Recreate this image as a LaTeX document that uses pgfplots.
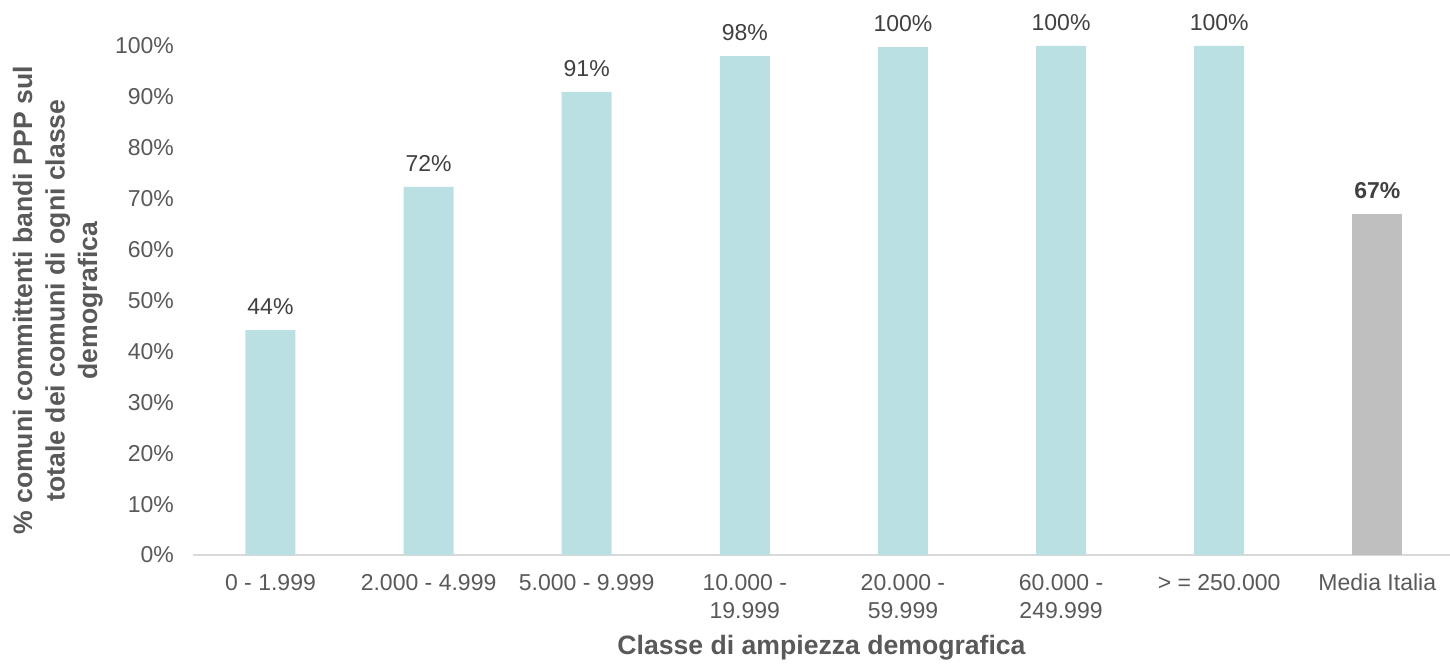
\documentclass[border=0pt]{standalone}
\usepackage{pgfplots}
\pgfplotsset{compat=1.18}
\usepackage{fontspec}
\setmainfont{Liberation Sans}
\definecolor{barteal}{HTML}{BAE0E3}
\definecolor{bargray}{HTML}{BFBFBF}
\definecolor{txtgray}{HTML}{595959}
\definecolor{lblgray}{HTML}{404040}
\definecolor{axgray}{HTML}{D9D9D9}

\begin{document}
\begin{tikzpicture}
\begin{axis}[
    at={(0,0)}, anchor=south west,
    scale only axis,
    width=628.5pt, height=254.5pt,
    ybar, bar width=25pt,
    xmin=-0.49, xmax=7.46,
    ymin=0, ymax=100,
    enlarge x limits=false,
    axis x line*=bottom, axis y line*=left,
    x axis line style={draw=axgray, line width=1pt, -},
    y axis line style={draw=none},
    major tick length=0,
    xtick={0,1,2,3,4,5,6,7},
    xticklabels={0 - 1.999, 2.000 - 4.999, 5.000 - 9.999, {10.000 -\\19.999}, {20.000 -\\59.999}, {60.000 -\\249.999}, > = 250.000, Media Italia},
    ytick={0,10,...,100},
    yticklabel={\pgfmathprintnumber{\tick}\%},
    /pgf/number format/assume math mode=true,
    tick label style={font=\fontsize{11.5}{14}\selectfont, text=txtgray},
    xticklabel style={align=center, yshift=-6pt},
    yticklabel style={xshift=-6pt},
    xlabel={Classe di ampiezza demografica},
    xlabel style={font=\fontsize{13.3}{16}\selectfont\bfseries, text=txtgray,
        at={(axis description cs:0.5,0)}, anchor=center, yshift=-46.5pt},
    ylabel={\% comuni committenti bandi PPP sul\\totale dei comuni di ogni classe\\demografica},
    ylabel style={font=\fontsize{13.3}{16.25}\selectfont\bfseries, text=txtgray, align=center,
        at={(axis description cs:-0.1075,0.5)}, anchor=center},
    nodes near coords={\pgfmathprintnumber[fixed,precision=0]{\pgfplotspointmeta}\%},
    nodes near coords style={font=\fontsize{11.5}{14}\selectfont, text=lblgray, anchor=south, yshift=4pt},
    clip=false,
]
\addplot[fill=barteal, draw=none, bar shift=0pt] coordinates {
    (0,44.2) (1,72.3) (2,91.0) (3,98.0) (4,99.8) (5,100) (6,100)};
\addplot[fill=bargray, draw=none, bar shift=0pt,
    nodes near coords style={font=\fontsize{11.5}{14}\selectfont\bfseries}] coordinates {
    (7,67.0)};
\end{axis}
\pgfresetboundingbox
\path (-96.5pt,-54.5pt) rectangle (628.5pt,277.5pt);
\end{tikzpicture}
\end{document}
